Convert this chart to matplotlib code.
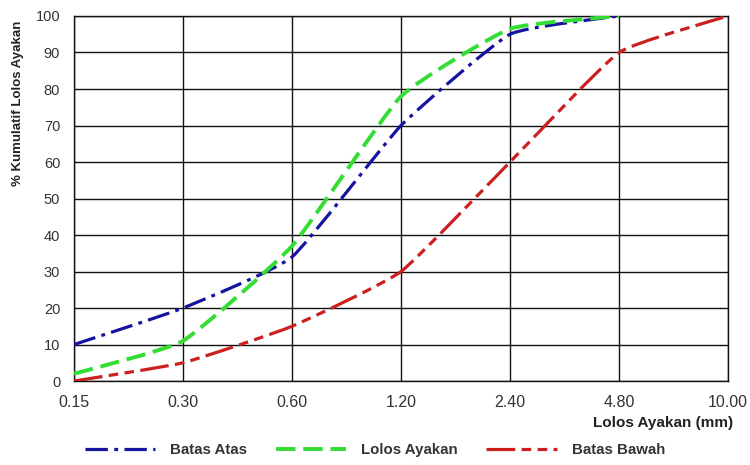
import matplotlib
matplotlib.use("Agg")
import matplotlib.pyplot as plt
import numpy as np
from matplotlib.lines import Line2D
from matplotlib.path import Path
from matplotlib.patches import PathPatch

plt.rcParams["font.family"] = ["Liberation Sans", "DejaVu Sans"]

sieve_labels = ["0.15", "0.30", "0.60", "1.20", "2.40", "4.80", "10.00"]
batas_atas = [10, 20, 34, 70, 95, 100]
lolos_ayakan = [2, 11, 37, 78, 96.5, 100]
batas_bawah = [0, 5, 15, 30, 60, 90, 100]


def smooth_path(xs, ys, k=14.0):
    # light Bezier smoothing through the data points
    pts = np.column_stack([xs, ys]).astype(float)
    n = len(pts)
    verts = [pts[0]]
    codes = [Path.MOVETO]
    for i in range(n - 1):
        p0 = pts[max(i - 1, 0)]
        p1 = pts[i]
        p2 = pts[i + 1]
        p3 = pts[min(i + 2, n - 1)]
        c1 = p1 + (p2 - p0) / k
        c2 = p2 - (p3 - p1) / k
        verts += [c1, c2, p2]
        codes += [Path.CURVE4] * 3
    return Path(verts, codes)


series = [
    ("Batas Atas", batas_atas, "#1414a0", 2.3, (0, (7, 2, 1.2, 2))),
    ("Lolos Ayakan", lolos_ayakan, "#33dd33", 2.8, (0, (5, 2))),
    ("Batas Bawah", batas_bawah, "#cc1f1f", 2.3, (0, (9, 2, 3, 2, 3, 2))),
]

fig = plt.figure(figsize=(7.5, 4.65), dpi=100)
ax = fig.add_axes([0.0987, 0.1806, 0.872, 0.785])

handles = []
for name, vals, color, lw, ls in series:
    xs = np.arange(len(vals))
    patch = PathPatch(smooth_path(xs, vals), facecolor="none", edgecolor=color,
                      linewidth=lw, linestyle=ls, zorder=3, capstyle="butt")
    ax.add_patch(patch)
    handles.append(Line2D([], [], color=color, linewidth=lw, linestyle=ls))

ax.set_xlim(0, len(sieve_labels) - 1)
ax.set_ylim(0, 100)
ax.set_xticks(range(len(sieve_labels)))
ax.set_xticklabels(sieve_labels)
ax.set_yticks(range(0, 101, 10))
ax.tick_params(length=0, labelcolor="#333333")
ax.tick_params(axis="x", pad=10, labelsize=11.5)
ax.tick_params(axis="y", pad=10, labelsize=10.5)
ax.grid(True, color="#111111", linewidth=1.0)
ax.set_axisbelow(True)
for sp in ax.spines.values():
    sp.set_color("#111111")
    sp.set_linewidth(1.0)

fig.text(0.024, 0.955, "% Kumulatif Lolos Ayakan", rotation=90, fontsize=9.5,
         fontweight="bold", color="#222222", ha="center", va="top")
fig.text(0.977, 0.09, "Lolos Ayakan (mm)", fontsize=11, fontweight="bold",
         color="#222222", ha="right", va="center")

fig.legend(handles, [s[0] for s in series], loc="lower center",
           bbox_to_anchor=(0.5, -0.012), ncol=3, frameon=False,
           handlelength=4.7, handletextpad=1.0, columnspacing=1.9,
           prop={"size": 10.8, "weight": "bold"}, labelcolor="#333333")

fig.savefig("out.png", dpi=100)
